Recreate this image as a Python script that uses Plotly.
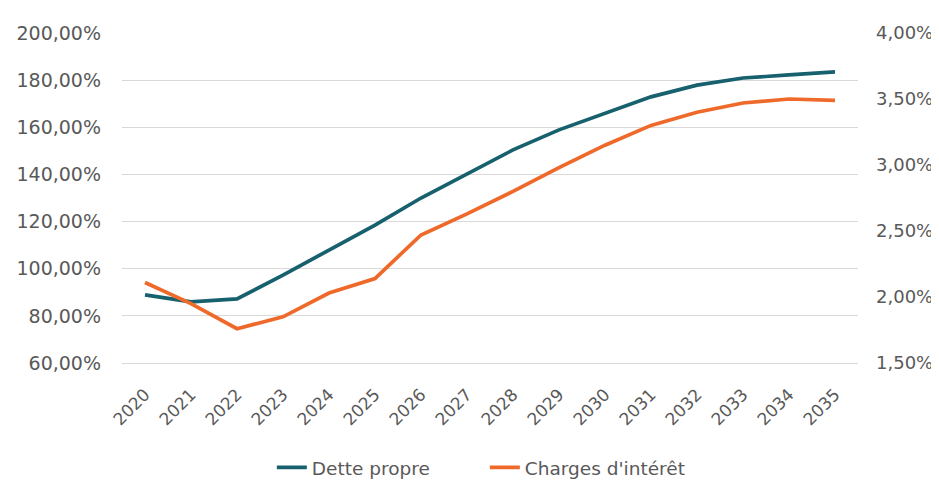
import plotly.graph_objects as go

years = ["2020", "2021", "2022", "2023", "2024", "2025", "2026", "2027",
         "2028", "2029", "2030", "2031", "2032", "2033", "2034", "2035"]
dette_propre = [88.9, 85.9, 87.2, 97.3, 107.9, 118.5, 130.0, 140.2,
                150.4, 158.9, 166.1, 172.9, 177.9, 180.9, 182.2, 183.5]
charges_interet = [2.11, 1.95, 1.76, 1.85, 2.03, 2.14, 2.47, 2.63,
                   2.80, 2.98, 3.15, 3.30, 3.40, 3.47, 3.50, 3.49]

teal = "#17606d"
orange = "#ef6a2a"
grey_text = "#595959"
font_family = "DejaVu Sans"

fig = go.Figure()
fig.add_trace(go.Scatter(x=years, y=dette_propre, name="Dette propre", mode="lines",
                         line=dict(color=teal, width=3.7), yaxis="y"))
fig.add_trace(go.Scatter(x=years, y=charges_interet, name="Charges d'intérêt", mode="lines",
                         line=dict(color=orange, width=3.7), yaxis="y2"))

fig.update_layout(
    width=931, height=477,
    margin=dict(l=114, r=81, t=25, b=122, autoexpand=False),
    paper_bgcolor="white", plot_bgcolor="white",
    separators=", ",
    font=dict(family=font_family, size=18, color=grey_text),
    showlegend=True,
    legend=dict(orientation="h", x=0.493, xanchor="center", y=-0.318, yanchor="middle",
                font=dict(size=18.5, color=grey_text), entrywidth=168,
                entrywidthmode="pixels", tracegroupgap=0),
    xaxis=dict(type="category", range=[-0.5, 15.5], tickangle=-45,
               showgrid=False, showline=True, linecolor="#d9d9d9", linewidth=1,
               ticks="", ticklabelstandoff=14, tickfont=dict(size=17, color=grey_text)),
    yaxis=dict(range=[60, 200], dtick=20, tickformat=".2f", ticksuffix="%",
               showgrid=True, gridcolor="#d9d9d9", gridwidth=1, zeroline=False,
               showline=False, ticks="", ticklabelstandoff=20,
               tickfont=dict(size=19, color=grey_text)),
    yaxis2=dict(range=[1.5, 4.0], dtick=0.5, tickformat=".2f", ticksuffix="%",
                overlaying="y", side="right", showgrid=False, zeroline=False,
                showline=False, ticks="", ticklabelstandoff=17,
                tickfont=dict(size=18, color=grey_text)),
)

fig.write_html("out.html")
